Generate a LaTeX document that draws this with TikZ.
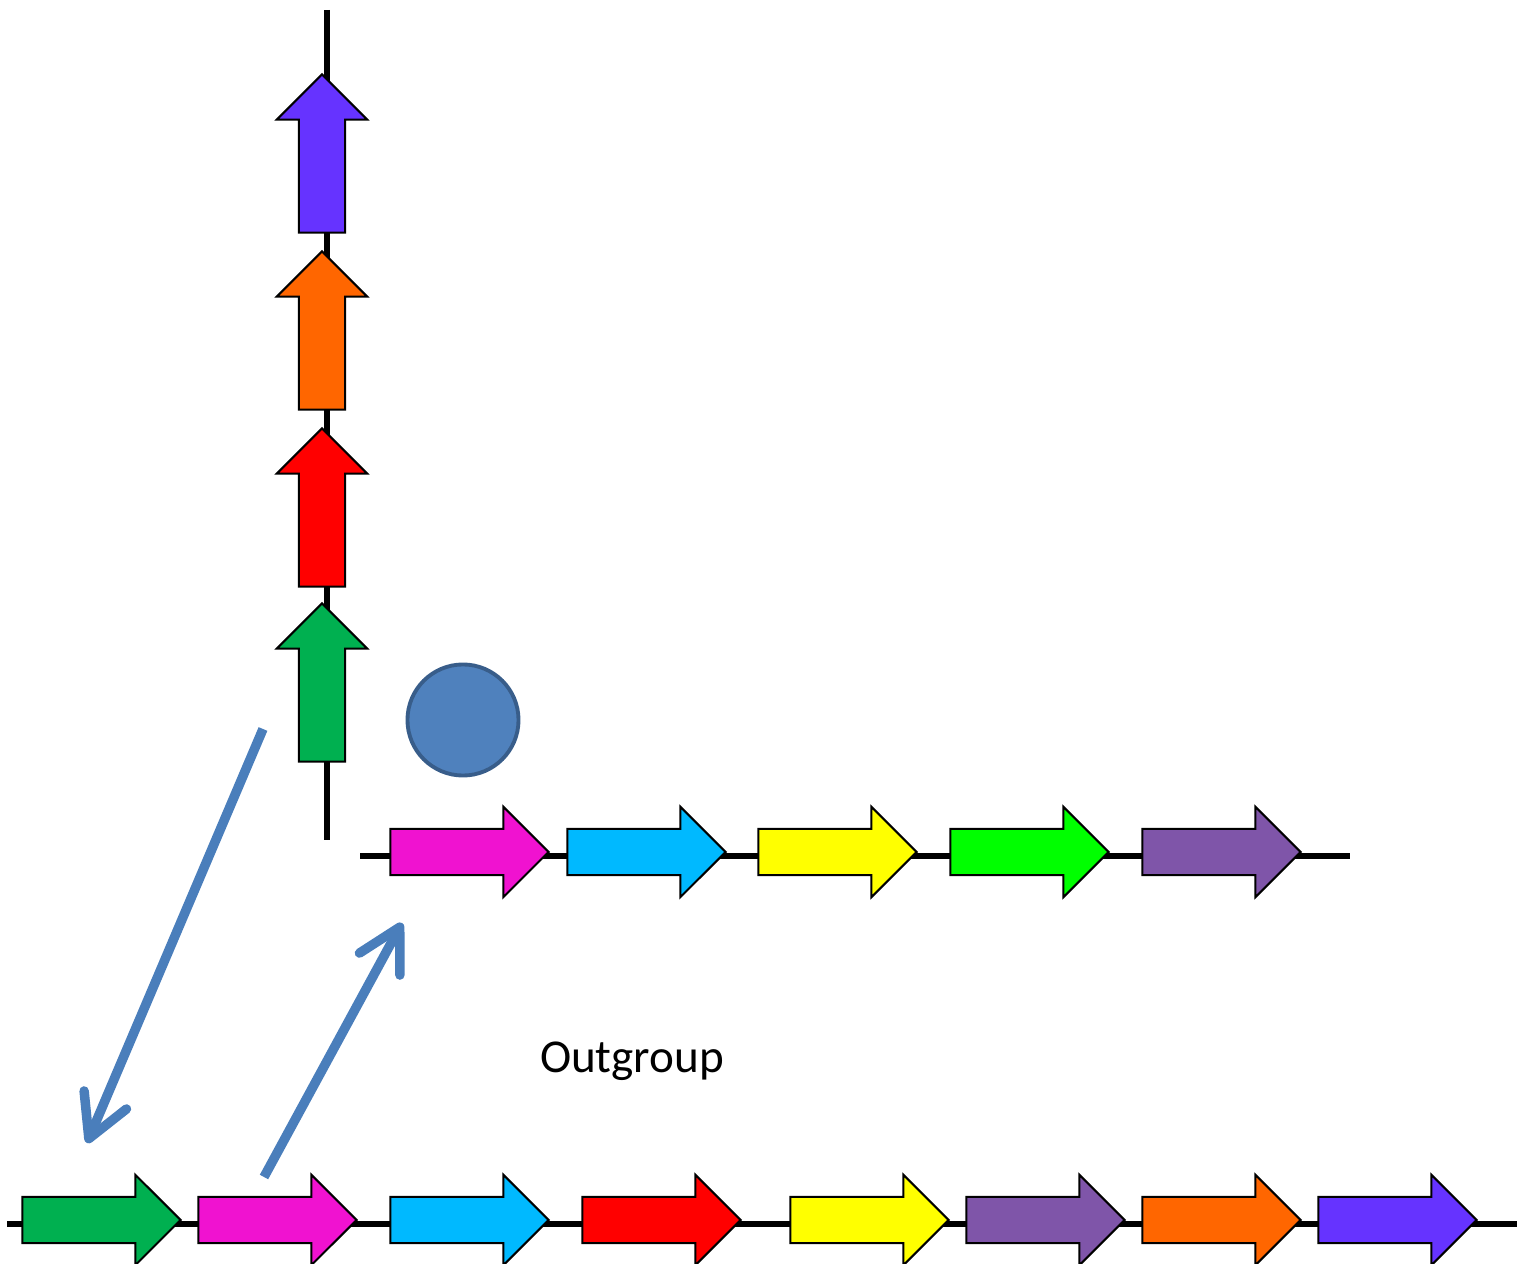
\documentclass[tikz,border=0pt]{standalone}
\usepackage{fontspec}
\setmainfont{Carlito}
\usetikzlibrary{shapes.arrows,arrows.meta}

\definecolor{gViolet}{RGB}{102,51,255}
\definecolor{gOrange}{RGB}{255,102,0}
\definecolor{gRed}{RGB}{255,0,0}
\definecolor{gGreen}{RGB}{0,176,80}
\definecolor{gMagenta}{RGB}{240,18,208}
\definecolor{gCyan}{RGB}{0,185,255}
\definecolor{gYellow}{RGB}{255,255,0}
\definecolor{gLime}{RGB}{0,255,0}
\definecolor{gPurple}{RGB}{127,85,169}
\definecolor{linkBlue}{RGB}{74,126,187}
\definecolor{dotFill}{RGB}{79,129,189}
\definecolor{dotEdge}{RGB}{56,93,138}

\tikzset{
  backbone/.style={line width=1.5pt, black},
  gene/.style={shape=single arrow, draw=black, line width=0.6pt,
    inner xsep=0pt, inner ysep=0.22cm,
    minimum height=1.58cm,
    single arrow head extend=0.22cm, single arrow tip angle=90,
    single arrow head indent=0pt, anchor=tip, fill=#1},
  upgene/.style={gene=#1, rotate=90},
  link/.style={line width=2.7pt, linkBlue,
    -{Straight Barb[round,length=0.42cm,width=0.46cm]}},
}

\begin{document}
\begin{tikzpicture}[x=0.01cm,y=-0.01cm]
  \useasboundingbox (0,0) rectangle (1517,1264);

  % chromosome backbones
  \coordinate (vtop) at (327,10);
  \coordinate (vbot) at (327,840);
  \coordinate (mleft) at (360,856);
  \coordinate (mright) at (1350,856);
  \coordinate (bleft) at (7,1224);
  \coordinate (bright) at (1517,1224);
  \draw[backbone] (vtop) -- (vbot);
  \draw[backbone] (mleft) -- (mright);
  \draw[backbone] (bleft) -- (bright);

  % vertical cluster
  \node[upgene=gViolet] (v1) at (322,73) {};
  \node[upgene=gOrange] (v2) at (322,250) {};
  \node[upgene=gRed]    (v3) at (322,427) {};
  \node[upgene=gGreen]  (v4) at (322,602) {};

  % middle cluster
  \node[gene=gMagenta] (m1) at (550,852) {};
  \node[gene=gCyan]    (m2) at (727,852) {};
  \node[gene=gYellow]  (m3) at (918,852) {};
  \node[gene=gLime]    (m4) at (1110,852) {};
  \node[gene=gPurple]  (m5) at (1302,852) {};

  % bottom cluster
  \node[gene=gGreen]   (b1) at (182,1220) {};
  \node[gene=gMagenta] (b2) at (358,1220) {};
  \node[gene=gCyan]    (b3) at (550,1220) {};
  \node[gene=gRed]     (b4) at (742,1220) {};
  \node[gene=gYellow]  (b5) at (950,1220) {};
  \node[gene=gPurple]  (b6) at (1126,1220) {};
  \node[gene=gOrange]  (b7) at (1302,1220) {};
  \node[gene=gViolet]  (b8) at (1478,1220) {};

  % marker
  \node[circle, draw=dotEdge, fill=dotFill, line width=1.1pt, minimum size=1.11cm,
    inner sep=0pt] (dot) at (463,720) {};

  % rearrangement links
  \coordinate (l1s) at (263,729);
  \coordinate (l1e) at (87,1143);
  \coordinate (l2s) at (264,1177);
  \coordinate (l2e) at (402,923);
  \draw[link] (l1s) -- (l1e);
  \draw[link] (l2s) -- (l2e);

  \node[font=\fontsize{13.4}{16}\selectfont, inner sep=0pt] (outgroup) at (632,1061) {Outgroup};
\end{tikzpicture}
\end{document}
